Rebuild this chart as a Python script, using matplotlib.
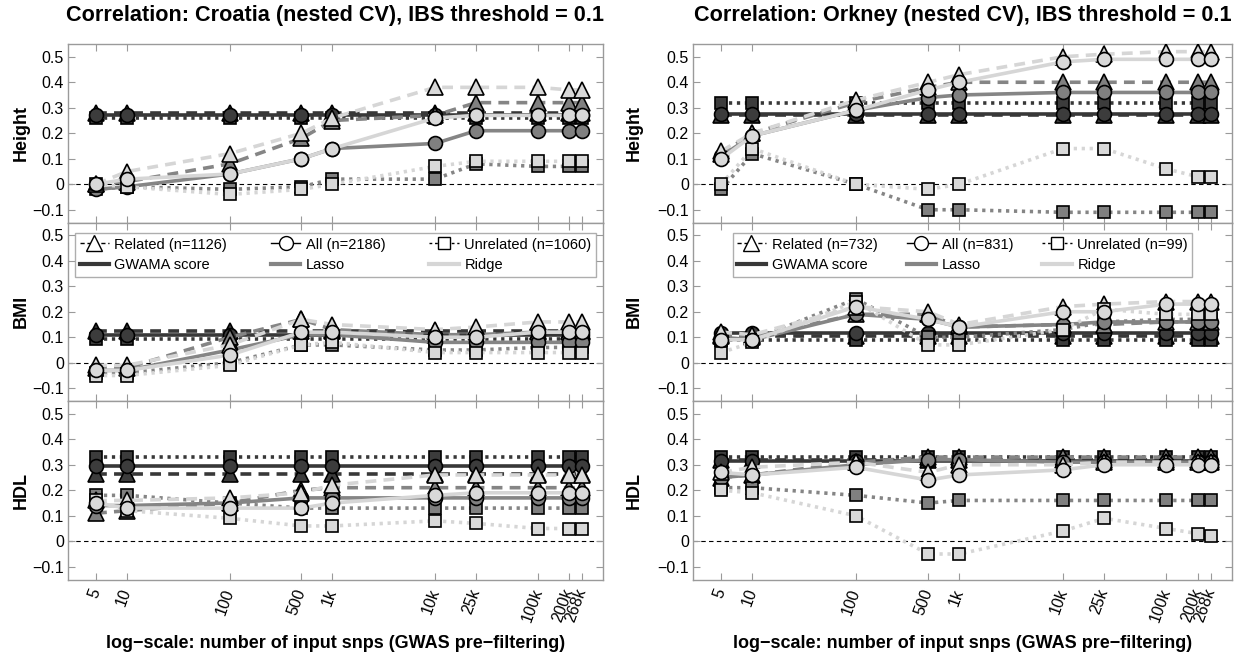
import numpy as np
import matplotlib.pyplot as plt
from matplotlib.lines import Line2D

plt.rcParams['font.family'] = ['Liberation Sans', 'DejaVu Sans']

snps = [5, 10, 100, 500, 1000, 10000, 25000, 100000, 200000, 268000]
snp_labels = ['5', '10', '100', '500', '1k', '10k', '25k', '100k', '200k', '268k']
traits = ['Height', 'BMI', 'HDL']

# ---- Croatia ----
cro_height_gwama_rel = [0.28, 0.28, 0.28, 0.28, 0.28, 0.28, 0.28, 0.28, 0.28, 0.28]
cro_height_gwama_all = [0.27, 0.27, 0.27, 0.27, 0.27, 0.27, 0.27, 0.27, 0.27, 0.27]
cro_height_gwama_unr = [0.26, 0.26, 0.26, 0.26, 0.26, 0.26, 0.26, 0.26, 0.26, 0.26]
cro_height_lasso_rel = [0.00, 0.01, 0.08, 0.18, 0.25, 0.27, 0.32, 0.32, 0.32, 0.32]
cro_height_lasso_all = [-0.02, -0.01, 0.04, 0.10, 0.14, 0.16, 0.21, 0.21, 0.21, 0.21]
cro_height_lasso_unr = [-0.02, -0.01, -0.02, -0.01, 0.02, 0.02, 0.08, 0.07, 0.07, 0.07]
cro_height_ridge_rel = [0.00, 0.05, 0.12, 0.20, 0.26, 0.38, 0.38, 0.38, 0.37, 0.37]
cro_height_ridge_all = [0.00, 0.02, 0.04, 0.10, 0.14, 0.26, 0.27, 0.27, 0.27, 0.27]
cro_height_ridge_unr = [0.00, -0.01, -0.04, -0.02, 0.00, 0.07, 0.09, 0.09, 0.09, 0.09]

cro_bmi_gwama_rel = [0.125, 0.125, 0.125, 0.125, 0.125, 0.125, 0.125, 0.125, 0.125, 0.125]
cro_bmi_gwama_all = [0.11, 0.11, 0.11, 0.11, 0.11, 0.11, 0.11, 0.11, 0.11, 0.11]
cro_bmi_gwama_unr = [0.095, 0.095, 0.095, 0.095, 0.095, 0.095, 0.095, 0.095, 0.095, 0.095]
cro_bmi_lasso_rel = [-0.02, -0.02, 0.10, 0.17, 0.13, 0.11, 0.11, 0.12, 0.12, 0.12]
cro_bmi_lasso_all = [-0.03, -0.03, 0.05, 0.11, 0.11, 0.08, 0.08, 0.08, 0.08, 0.08]
cro_bmi_lasso_unr = [-0.04, -0.04, 0.00, 0.07, 0.07, 0.05, 0.05, 0.06, 0.06, 0.06]
cro_bmi_ridge_rel = [-0.01, -0.01, 0.07, 0.17, 0.15, 0.13, 0.14, 0.16, 0.16, 0.16]
cro_bmi_ridge_all = [-0.03, -0.03, 0.03, 0.12, 0.12, 0.10, 0.10, 0.12, 0.12, 0.12]
cro_bmi_ridge_unr = [-0.05, -0.05, -0.01, 0.07, 0.08, 0.04, 0.04, 0.04, 0.04, 0.04]

cro_hdl_gwama_rel = [0.265, 0.265, 0.265, 0.265, 0.265, 0.265, 0.265, 0.265, 0.265, 0.265]
cro_hdl_gwama_all = [0.295, 0.295, 0.295, 0.295, 0.295, 0.295, 0.295, 0.295, 0.295, 0.295]
cro_hdl_gwama_unr = [0.33, 0.33, 0.33, 0.33, 0.33, 0.33, 0.33, 0.33, 0.33, 0.33]
cro_hdl_lasso_rel = [0.11, 0.12, 0.15, 0.20, 0.21, 0.21, 0.21, 0.21, 0.21, 0.21]
cro_hdl_lasso_all = [0.14, 0.14, 0.15, 0.17, 0.17, 0.17, 0.17, 0.17, 0.17, 0.17]
cro_hdl_lasso_unr = [0.18, 0.18, 0.15, 0.13, 0.13, 0.13, 0.13, 0.13, 0.13, 0.13]
cro_hdl_ridge_rel = [0.16, 0.16, 0.17, 0.19, 0.22, 0.26, 0.26, 0.26, 0.26, 0.26]
cro_hdl_ridge_all = [0.15, 0.13, 0.13, 0.13, 0.15, 0.18, 0.19, 0.19, 0.19, 0.19]
cro_hdl_ridge_unr = [0.16, 0.12, 0.09, 0.06, 0.06, 0.08, 0.07, 0.05, 0.05, 0.05]

# ---- Orkney ----
ork_height_gwama_rel = [0.27, 0.27, 0.27, 0.27, 0.27, 0.27, 0.27, 0.27, 0.27, 0.27]
ork_height_gwama_all = [0.275, 0.275, 0.275, 0.275, 0.275, 0.275, 0.275, 0.275, 0.275, 0.275]
ork_height_gwama_unr = [0.32, 0.32, 0.32, 0.32, 0.32, 0.32, 0.32, 0.32, 0.32, 0.32]
ork_height_lasso_rel = [0.12, 0.20, 0.32, 0.38, 0.40, 0.40, 0.40, 0.40, 0.40, 0.40]
ork_height_lasso_all = [0.11, 0.19, 0.29, 0.34, 0.35, 0.36, 0.36, 0.36, 0.36, 0.36]
ork_height_lasso_unr = [-0.02, 0.12, 0.00, -0.10, -0.10, -0.11, -0.11, -0.11, -0.11, -0.11]
ork_height_ridge_rel = [0.13, 0.20, 0.33, 0.40, 0.43, 0.50, 0.51, 0.52, 0.52, 0.52]
ork_height_ridge_all = [0.10, 0.19, 0.29, 0.37, 0.40, 0.48, 0.49, 0.49, 0.49, 0.49]
ork_height_ridge_unr = [0.00, 0.14, 0.00, -0.02, 0.00, 0.14, 0.14, 0.06, 0.03, 0.03]

ork_bmi_gwama_rel = [0.105, 0.105, 0.105, 0.105, 0.105, 0.105, 0.105, 0.105, 0.105, 0.105]
ork_bmi_gwama_all = [0.115, 0.115, 0.115, 0.115, 0.115, 0.115, 0.115, 0.115, 0.115, 0.115]
ork_bmi_gwama_unr = [0.09, 0.09, 0.09, 0.09, 0.09, 0.09, 0.09, 0.09, 0.09, 0.09]
ork_bmi_lasso_rel = [0.11, 0.10, 0.19, 0.19, 0.14, 0.15, 0.15, 0.16, 0.16, 0.16]
ork_bmi_lasso_all = [0.10, 0.09, 0.19, 0.17, 0.14, 0.15, 0.16, 0.16, 0.16, 0.16]
ork_bmi_lasso_unr = [0.09, 0.09, 0.25, 0.10, 0.10, 0.13, 0.16, 0.17, 0.17, 0.17]
ork_bmi_ridge_rel = [0.12, 0.11, 0.22, 0.20, 0.15, 0.22, 0.23, 0.24, 0.24, 0.24]
ork_bmi_ridge_all = [0.09, 0.09, 0.22, 0.17, 0.14, 0.20, 0.20, 0.23, 0.23, 0.23]
ork_bmi_ridge_unr = [0.04, 0.08, 0.24, 0.07, 0.07, 0.13, 0.21, 0.19, 0.19, 0.19]

ork_hdl_gwama_rel = [0.32, 0.32, 0.32, 0.32, 0.32, 0.32, 0.32, 0.32, 0.32, 0.32]
ork_hdl_gwama_all = [0.315, 0.315, 0.315, 0.315, 0.315, 0.315, 0.315, 0.315, 0.315, 0.315]
ork_hdl_gwama_unr = [0.33, 0.33, 0.33, 0.33, 0.33, 0.33, 0.33, 0.33, 0.33, 0.33]
ork_hdl_lasso_rel = [0.25, 0.26, 0.31, 0.33, 0.33, 0.33, 0.33, 0.33, 0.33, 0.33]
ork_hdl_lasso_all = [0.25, 0.26, 0.30, 0.32, 0.32, 0.31, 0.31, 0.31, 0.31, 0.31]
ork_hdl_lasso_unr = [0.21, 0.21, 0.18, 0.15, 0.16, 0.16, 0.16, 0.16, 0.16, 0.16]
ork_hdl_ridge_rel = [0.27, 0.29, 0.31, 0.27, 0.30, 0.30, 0.31, 0.31, 0.31, 0.31]
ork_hdl_ridge_all = [0.27, 0.26, 0.29, 0.24, 0.26, 0.28, 0.30, 0.30, 0.30, 0.30]
ork_hdl_ridge_unr = [0.20, 0.19, 0.10, -0.05, -0.05, 0.04, 0.09, 0.05, 0.03, 0.02]

cro = {
    'Height': [[cro_height_gwama_rel, cro_height_gwama_unr, cro_height_gwama_all],
               [cro_height_lasso_rel, cro_height_lasso_unr, cro_height_lasso_all],
               [cro_height_ridge_rel, cro_height_ridge_unr, cro_height_ridge_all]],
    'BMI': [[cro_bmi_gwama_rel, cro_bmi_gwama_unr, cro_bmi_gwama_all],
            [cro_bmi_lasso_rel, cro_bmi_lasso_unr, cro_bmi_lasso_all],
            [cro_bmi_ridge_rel, cro_bmi_ridge_unr, cro_bmi_ridge_all]],
    'HDL': [[cro_hdl_gwama_rel, cro_hdl_gwama_unr, cro_hdl_gwama_all],
            [cro_hdl_lasso_rel, cro_hdl_lasso_unr, cro_hdl_lasso_all],
            [cro_hdl_ridge_rel, cro_hdl_ridge_unr, cro_hdl_ridge_all]],
}
ork = {
    'Height': [[ork_height_gwama_rel, ork_height_gwama_unr, ork_height_gwama_all],
               [ork_height_lasso_rel, ork_height_lasso_unr, ork_height_lasso_all],
               [ork_height_ridge_rel, ork_height_ridge_unr, ork_height_ridge_all]],
    'BMI': [[ork_bmi_gwama_rel, ork_bmi_gwama_unr, ork_bmi_gwama_all],
            [ork_bmi_lasso_rel, ork_bmi_lasso_unr, ork_bmi_lasso_all],
            [ork_bmi_ridge_rel, ork_bmi_ridge_unr, ork_bmi_ridge_all]],
    'HDL': [[ork_hdl_gwama_rel, ork_hdl_gwama_unr, ork_hdl_gwama_all],
            [ork_hdl_lasso_rel, ork_hdl_lasso_unr, ork_hdl_lasso_all],
            [ork_hdl_ridge_rel, ork_hdl_ridge_unr, ork_hdl_ridge_all]],
}

line_cols = ['#383838', '#858585', '#d6d6d6']
face_cols = ['#3c3c3c', '#808080', '#d9d9d9']
# related (dashed, triangle), unrelated (dotted, square), all (solid, circle)
styles = [((0, (3, 2)), '^', 11), ((0, (0.9, 1.3)), 's', 9), ('-', 'o', 10)]
edge_col = '#9a9a9a'

fig = plt.figure(figsize=(12.4, 6.57), dpi=100)
W, H = 1240.0, 657.0
panel_h = 178.5 / H

setups = [
    (cro, 68, 535, 'Correlation: Croatia (nested CV), IBS threshold = 0.1',
     ['Related (n=1126)', 'All (n=2186)', 'Unrelated (n=1060)'], 3.0, -0.072),
    (ork, 693, 539, 'Correlation: Orkney (nested CV), IBS threshold = 0.1',
     ['Related (n=732)', 'All (n=831)', 'Unrelated (n=99)'], 2.0, -0.093),
]

for data, x0, w, title, leg_labels, colsp, ylab_x in setups:
    for k, trait in enumerate(traits):
        bottom = (657 - 44) / H - (k + 1) * panel_h
        ax = fig.add_axes([x0 / W, bottom, w / W, panel_h])
        ax.axhline(0, color='k', lw=0.8, ls=(0, (4, 3)), zorder=1)
        for m in range(3):
            for g in range(3):
                ls, mk, ms = styles[g]
                ax.plot(snps, data[trait][m][g], color=line_cols[m], lw=2.6, ls=ls,
                        marker=mk, ms=ms, mfc=face_cols[m], mec='black', mew=1.2,
                        dash_capstyle='butt', zorder=2 + m)
        ax.set_xscale('log')
        ax.set_xlim(2.67, 430000)
        ax.set_ylim(-0.15, 0.55)
        ax.set_yticks([-0.1, 0, 0.1, 0.2, 0.3, 0.4, 0.5])
        ax.set_yticklabels(['\u22120.1', '0', '0.1', '0.2', '0.3', '0.4', '0.5'])
        ax.set_xticks(snps)
        ax.minorticks_off()
        ax.tick_params(axis='both', direction='in', top=True, right=True, length=5,
                       width=0.8, color=edge_col, labelsize=11.5, pad=3)
        if k == 2:
            ax.set_xticklabels(snp_labels, rotation=70, ha='right', va='center',
                               rotation_mode='anchor')
            ax.tick_params(axis='x', labelsize=11.5, pad=7)
        else:
            ax.set_xticklabels([])
        for sp in ax.spines.values():
            sp.set_color(edge_col)
            sp.set_linewidth(1.0)
        ax.set_ylabel(trait, fontsize=13, fontweight='bold')
        ax.yaxis.set_label_coords(ylab_x, 0.5)

        if trait == 'BMI':
            handles = [
                Line2D([], [], color='k', lw=1, ls=(0, (3, 2)), marker='^', ms=11,
                       mfc='white', mec='k'),
                Line2D([], [], color=line_cols[0], lw=3),
                Line2D([], [], color='k', lw=1, ls='-', marker='o', ms=10,
                       mfc='white', mec='k'),
                Line2D([], [], color=line_cols[1], lw=3),
                Line2D([], [], color='k', lw=1, ls=(0, (2, 2)), marker='s', ms=9,
                       mfc='white', mec='k'),
                Line2D([], [], color=line_cols[2], lw=3),
            ]
            labels = [leg_labels[0], 'GWAMA score', leg_labels[1], 'Lasso',
                      leg_labels[2], 'Ridge']
            leg = ax.legend(handles, labels, ncol=3, loc='upper center',
                            bbox_to_anchor=(0.5, 0.94), fontsize=10.5,
                            frameon=True, fancybox=False, edgecolor=edge_col,
                            handlelength=2.0, handletextpad=0.4,
                            columnspacing=colsp, labelspacing=0.45,
                            borderpad=0.3, borderaxespad=0.0)
            leg.get_frame().set_linewidth(1.0)

    fig.text((x0 + w / 2) / W, 1 - 16 / H, title, ha='center', va='center',
             fontsize=15.6, fontweight='bold')
    fig.text((x0 + w / 2) / W, 1 - 643 / H,
             'log\u2212scale: number of input snps (GWAS pre\u2212filtering)',
             ha='center', va='center', fontsize=13, fontweight='bold')

fig.savefig('out.png', dpi=100)
